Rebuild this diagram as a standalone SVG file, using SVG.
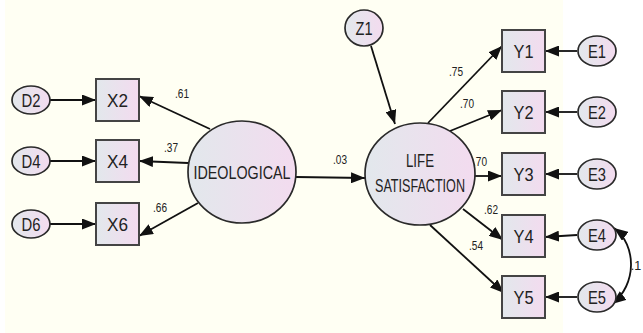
<svg xmlns="http://www.w3.org/2000/svg" width="643" height="333" viewBox="0 0 643 333">
<defs>
<linearGradient id="g" x1="0" y1="0" x2="1" y2="0">
<stop offset="0" stop-color="#e2e8ec"/>
<stop offset="1" stop-color="#f3dbef"/>
</linearGradient>
<marker id="ah" markerUnits="userSpaceOnUse" markerWidth="14" markerHeight="11" refX="14" refY="5.5" orient="auto-start-reverse">
<path d="M0,0 L14,5.5 L0,11 z" fill="#111"/>
</marker>
</defs>
<style>
.n{fill:url(#g);stroke:#2a2a2a;stroke-width:1.7}
.b{fill:url(#g);stroke:#444;stroke-width:2}
.t{font-family:"Liberation Sans",Arial,sans-serif;font-size:18px;fill:#222;text-anchor:middle}
.l{font-family:"Liberation Sans",Arial,sans-serif;font-size:12.5px;fill:#222;text-anchor:middle}
.c{fill:none;stroke:#111;stroke-width:1.8;marker-end:url(#ah)}
</style>
<rect x="0" y="0" width="643" height="333" fill="#ffffff"/>
<rect x="5" y="0" width="558" height="333" fill="#fffff3"/>

<g id="connectors">
<line class="c" x1="50" y1="100" x2="96" y2="100"/>
<line class="c" x1="50" y1="161" x2="96" y2="161"/>
<line class="c" x1="50" y1="224" x2="96" y2="224"/>
<line class="c" x1="210" y1="129" x2="139" y2="96"/>
<line class="c" x1="188" y1="163" x2="139" y2="161"/>
<line class="c" x1="198" y1="203" x2="139" y2="236"/>
<line class="c" x1="296" y1="177" x2="365" y2="178"/>
<line class="c" x1="371" y1="46" x2="395" y2="124"/>
<line class="c" x1="428" y1="123" x2="502" y2="46"/>
<line class="c" x1="450" y1="131" x2="502" y2="110"/>
<line class="c" x1="475" y1="176" x2="502" y2="176"/>
<line class="c" x1="463" y1="209" x2="503" y2="240"/>
<line class="c" x1="430" y1="225" x2="504" y2="293"/>
<line class="c" x1="577" y1="51" x2="545" y2="51"/>
<line class="c" x1="577" y1="112" x2="545" y2="112"/>
<line class="c" x1="577" y1="174" x2="545" y2="174"/>
<line class="c" x1="577" y1="235" x2="545" y2="237"/>
<line class="c" x1="577" y1="297" x2="545" y2="297"/>
<path class="c" d="M614,228 C637,245 637,285 612,304" marker-start="url(#ah)"/>
<text class="l" x="182" y="98" textLength="14" lengthAdjust="spacingAndGlyphs">.61</text>
<text class="l" x="171" y="152" textLength="14" lengthAdjust="spacingAndGlyphs">.37</text>
<text class="l" x="160" y="212" textLength="14" lengthAdjust="spacingAndGlyphs">.66</text>
<text class="l" x="340" y="164" textLength="14" lengthAdjust="spacingAndGlyphs">.03</text>
<text class="l" x="456" y="76" textLength="14" lengthAdjust="spacingAndGlyphs">.75</text>
<text class="l" x="467" y="108" textLength="14" lengthAdjust="spacingAndGlyphs">.70</text>
<text class="l" x="480" y="166" textLength="14" lengthAdjust="spacingAndGlyphs">.70</text>
<text class="l" x="491" y="214" textLength="14" lengthAdjust="spacingAndGlyphs">.62</text>
<text class="l" x="476" y="250" textLength="14" lengthAdjust="spacingAndGlyphs">.54</text>
<text class="l" x="636" y="270" text-anchor="start">.1</text>
</g>

<g id="D2"><ellipse class="n" cx="31" cy="100" rx="19" ry="14"/><text class="t" x="31" y="106.5" textLength="19" lengthAdjust="spacingAndGlyphs">D2</text></g>
<g id="D4"><ellipse class="n" cx="31" cy="161" rx="19" ry="14"/><text class="t" x="31" y="167.5" textLength="19" lengthAdjust="spacingAndGlyphs">D4</text></g>
<g id="D6"><ellipse class="n" cx="31" cy="224" rx="19" ry="14"/><text class="t" x="31" y="230.5" textLength="19" lengthAdjust="spacingAndGlyphs">D6</text></g>

<g id="X2"><rect class="b" x="96" y="79" width="43" height="42"/><text class="t" x="117.5" y="106.5" textLength="21" lengthAdjust="spacingAndGlyphs">X2</text></g>
<g id="X4"><rect class="b" x="96" y="140" width="43" height="42"/><text class="t" x="117.5" y="167.5" textLength="21" lengthAdjust="spacingAndGlyphs">X4</text></g>
<g id="X6"><rect class="b" x="96" y="203" width="43" height="42"/><text class="t" x="117.5" y="230.5" textLength="21" lengthAdjust="spacingAndGlyphs">X6</text></g>

<g id="IDEOLOGICAL"><ellipse class="n" cx="242" cy="172" rx="54" ry="51"/><text class="t" x="242" y="178.5" textLength="97" lengthAdjust="spacingAndGlyphs">IDEOLOGICAL</text></g>

<g id="LIFE_SATISFACTION"><ellipse class="n" cx="420" cy="174" rx="55" ry="51"/><text class="t" x="420" y="167" textLength="28" lengthAdjust="spacingAndGlyphs">LIFE</text><text class="t" x="420" y="192" textLength="90" lengthAdjust="spacingAndGlyphs">SATISFACTION</text></g>

<g id="Z1"><ellipse class="n" cx="364" cy="28" rx="19" ry="18"/><text class="t" x="364" y="34.5" textLength="17" lengthAdjust="spacingAndGlyphs">Z1</text></g>

<g id="Y1"><rect class="b" x="502" y="30" width="43" height="42"/><text class="t" x="523.5" y="57.5" textLength="20" lengthAdjust="spacingAndGlyphs">Y1</text></g>
<g id="Y2"><rect class="b" x="502" y="91" width="43" height="42"/><text class="t" x="523.5" y="118.5" textLength="20" lengthAdjust="spacingAndGlyphs">Y2</text></g>
<g id="Y3"><rect class="b" x="502" y="153" width="43" height="42"/><text class="t" x="523.5" y="180.5" textLength="20" lengthAdjust="spacingAndGlyphs">Y3</text></g>
<g id="Y4"><rect class="b" x="502" y="215" width="43" height="42"/><text class="t" x="523.5" y="242.5" textLength="20" lengthAdjust="spacingAndGlyphs">Y4</text></g>
<g id="Y5"><rect class="b" x="502" y="276" width="43" height="42"/><text class="t" x="523.5" y="303.5" textLength="20" lengthAdjust="spacingAndGlyphs">Y5</text></g>

<g id="E1"><ellipse class="n" cx="597" cy="51" rx="19" ry="15"/><text class="t" x="597" y="57.5" textLength="18" lengthAdjust="spacingAndGlyphs">E1</text></g>
<g id="E2"><ellipse class="n" cx="597" cy="112" rx="19" ry="15"/><text class="t" x="597" y="118.5" textLength="18" lengthAdjust="spacingAndGlyphs">E2</text></g>
<g id="E3"><ellipse class="n" cx="597" cy="174" rx="19" ry="15"/><text class="t" x="597" y="180.5" textLength="18" lengthAdjust="spacingAndGlyphs">E3</text></g>
<g id="E4"><ellipse class="n" cx="597" cy="235" rx="19" ry="15"/><text class="t" x="597" y="241.5" textLength="18" lengthAdjust="spacingAndGlyphs">E4</text></g>
<g id="E5"><ellipse class="n" cx="597" cy="297" rx="19" ry="15"/><text class="t" x="597" y="303.5" textLength="18" lengthAdjust="spacingAndGlyphs">E5</text></g>
</svg>
